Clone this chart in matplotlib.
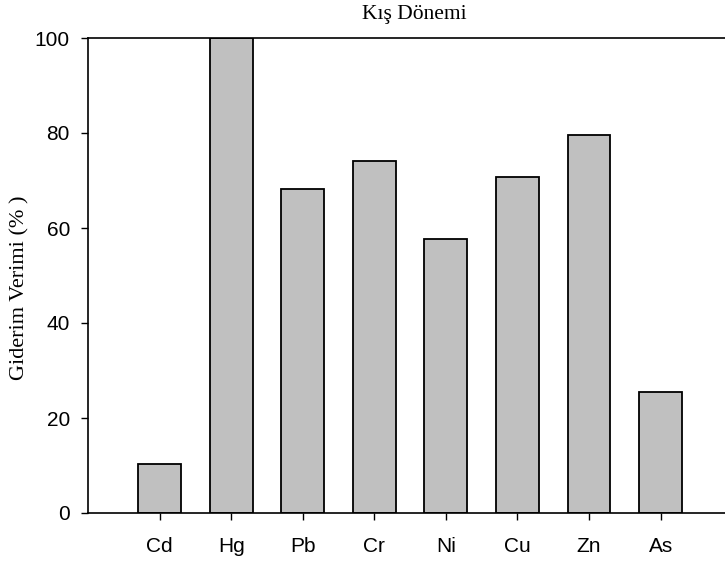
import numpy as np
import matplotlib.pyplot as plt

metals = ['Cd', 'Hg', 'Pb', 'Cr', 'Ni', 'Cu', 'Zn', 'As']
verim = [10.4, 100.0, 68.3, 74.1, 57.7, 70.7, 79.6, 25.4]

fig = plt.figure(figsize=(7.25, 5.63), dpi=100)
ax = fig.add_axes([88/725, 1 - 513/563, 1 - 88/725, 475/563])

x = np.arange(1, len(metals) + 1)
ax.bar(x, verim, width=0.6, color='#c0c0c0', edgecolor='black', linewidth=1.3)

ax.set_xlim(0, 8.9)
ax.set_ylim(0, 100)
ax.set_xticks(x)
ax.set_xticklabels(metals, family='Liberation Sans', fontsize=15)
ax.set_yticks([0, 20, 40, 60, 80, 100])
ax.set_yticklabels(['0', '20', '40', '60', '80', '100'], family='Liberation Sans', fontsize=15)
ax.tick_params(direction='out', length=5, width=1)
ax.tick_params(axis='x', pad=12)
ax.tick_params(axis='y', pad=8)

ax.spines['right'].set_visible(False)
for s in ['left', 'bottom', 'top']:
    ax.spines[s].set_linewidth(1.2)

ax.set_ylabel('Giderim Verimi (% )', family='Liberation Serif', fontsize=16, va='center')
ax.yaxis.set_label_coords((20 - 88) / 637, (513 - 287.5) / 475)
ax.set_title('Kış Dönemi', family='Liberation Serif', fontsize=15.5, pad=14, x=(414 - 88) / (725 - 88))

fig.savefig('out.png', dpi=100)
